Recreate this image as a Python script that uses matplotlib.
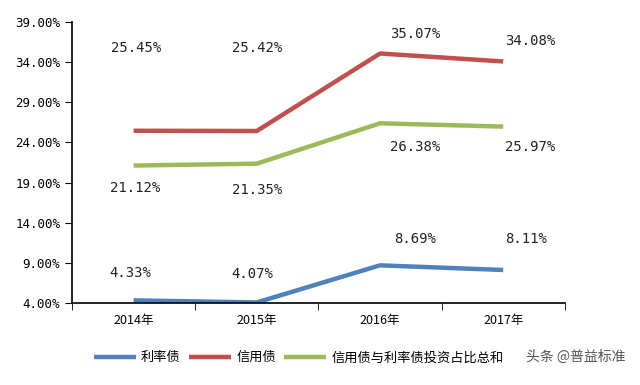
import matplotlib
matplotlib.use("Agg")
import matplotlib.pyplot as plt
import numpy as np

plt.rcParams['font.family'] = ['Noto Sans CJK SC', 'DejaVu Sans']

years = ["2014年", "2015年", "2016年", "2017年"]
rate_bond = [4.33, 4.07, 8.69, 8.11]
credit_bond = [25.45, 25.42, 35.07, 34.08]
combined = [21.12, 21.35, 26.38, 25.97]
series_names = ["利率债", "信用债", "信用债与利率债投资占比总和"]
yticks = [4, 9, 14, 19, 24, 29, 34, 39]

# label offsets in pixels (dx, dy) for each point
rate_off = [(-3, 27), (-5, 28), (35, 26), (23, 31)]
credit_off = [(3, 83), (0, 83), (35, 20), (27, 20)]
comb_off = [(2, -22), (0, -26), (35, -24), (27, -20)]

colors = ["#4F81BD", "#C0504D", "#9BBB59"]
mono = ["DejaVu Sans Mono"]

fig = plt.figure(figsize=(6.4, 3.85), dpi=100)
ax = fig.add_axes([0.1125, 0.213, 0.770, 0.730])
x = np.arange(len(years))

for vals, offs, c, name in [(rate_bond, rate_off, colors[0], series_names[0]),
                            (credit_bond, credit_off, colors[1], series_names[1]),
                            (combined, comb_off, colors[2], series_names[2])]:
    ax.plot(x, vals, color=c, linewidth=3.2, label=name, solid_capstyle="butt")
    for xi, v, (dx, dy) in zip(x, vals, offs):
        ax.annotate(f"{v:.2f}%", (xi, v), xytext=(dx, dy), textcoords="offset pixels",
                    ha="center", va="center", fontsize=10, color="#222222", family=mono)

ax.set_xlim(-0.5, 3.5)
ax.set_ylim(4, 39)
ax.set_yticks(yticks)
ax.set_yticklabels([f"{t:.2f}%" for t in yticks], fontsize=9, family=mono)
ax.set_xticks(x)
ax.set_xticklabels(years, fontsize=9)
ax.set_xticks(np.arange(-0.5, 4, 1), minor=True)
ax.tick_params(axis="x", which="major", length=0, pad=8)
ax.tick_params(axis="x", which="minor", length=5, direction="out")
ax.tick_params(axis="y", length=5, direction="out")
for s in ["top", "right"]:
    ax.spines[s].set_visible(False)
for s in ["left", "bottom"]:
    ax.spines[s].set_linewidth(1.2)

ax.legend(loc="center", bbox_to_anchor=(0.46, -0.195), ncol=3, frameon=False,
          fontsize=9.5, handlelength=3.2, columnspacing=0.6, handletextpad=0.4)

fig.text(0.978, 0.073, "头条 @普益标准", ha="right", va="center", fontsize=10, color="#555555")

fig.savefig("out.png", dpi=100)
